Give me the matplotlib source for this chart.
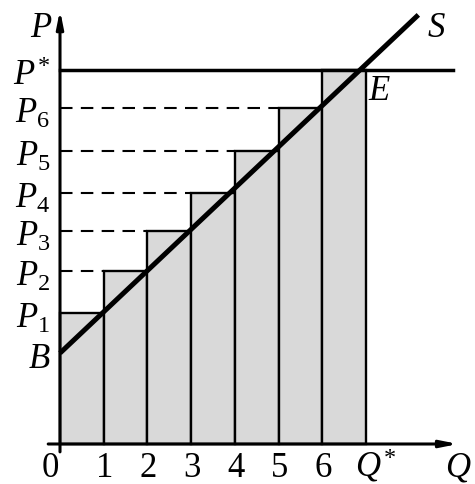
import numpy as np
import matplotlib
matplotlib.use("Agg")
import matplotlib.pyplot as plt

plt.rcParams["font.family"] = "Liberation Serif"
plt.rcParams["mathtext.fontset"] = "custom"
plt.rcParams["mathtext.rm"] = "Liberation Serif"
plt.rcParams["mathtext.it"] = "Liberation Serif:italic"

# data (price levels in the same units as one quantity step)
quantities = [0, 1, 2, 3, 4, 5, 6]
prices = [3.00, 3.96, 4.87, 5.74, 6.70, 7.69, 8.56]   # P1..P6, P*
price_labels = [r"$P_1$", r"$P_2$", r"$P_3$", r"$P_4$", r"$P_5$", r"$P_6$", r"$P^{\!*}$"]
b_level = 2.08
supply_x = [0, 8.2]
supply_y = [2.08, 9.82]
q_star = 7
x_ticklabels = ["0", "1", "2", "3", "4", "5", "6"]

fig = plt.figure(figsize=(4.75, 4.84), dpi=100)
ax = fig.add_axes([0, 0, 1, 1])
ax.set_xlim(-60 / 43.7, 415 / 43.7)
ax.set_ylim(-40 / 43.7, 444 / 43.7)
ax.axis("off")

fs = 25

# bars
ax.bar(quantities, prices, width=1, align="edge", color="#d9d9d9",
       edgecolor="black", linewidth=1.7, zorder=2)

# dashed guides
for i, p in enumerate(prices[:-1]):
    if i > 0:
        ax.plot([0, quantities[i]], [p, p], color="black", lw=1.5,
                dashes=(6, 4), zorder=1)

# P* line
ax.plot([0, 8.99], [prices[-1], prices[-1]], color="black", lw=2.5, zorder=3)

# supply line
ax.plot(supply_x, supply_y, color="black", lw=3.6, zorder=4,
        solid_capstyle="butt")

# axes with arrows
arrow = dict(arrowstyle="-|>,head_length=1.0,head_width=0.2", lw=2.2,
             color="black", shrinkA=0, shrinkB=0)
ax.annotate("", xy=(0, 9.93), xytext=(0, -0.18), arrowprops=arrow, zorder=5)
ax.annotate("", xy=(9.11, 0), xytext=(-0.27, 0), arrowprops=arrow, zorder=5)

# price labels
for lab, p in zip(price_labels, prices):
    ax.annotate(lab, (0, p), xytext=(-7, -10.8), textcoords="offset points",
                ha="right", va="baseline", fontsize=fs)
ax.annotate(r"$B$", (0, b_level), xytext=(-7, -10.8), textcoords="offset points",
            ha="right", va="baseline", fontsize=fs)
ax.text(-7 / 43.7, 9.31, r"$P$", ha="right", va="baseline", fontsize=fs)

# quantity labels
xl = [-0.23] + [q + 0.02 for q in quantities[1:]]
for x, lab in zip(xl, x_ticklabels):
    ax.text(x, -0.755, lab, ha="center", va="baseline", fontsize=fs)
ax.text(q_star - 0.25, -0.755, r"$Q^{\!*}$", ha="left", va="baseline", fontsize=fs)
ax.text(9.12, -0.755, r"$Q$", ha="center", va="baseline", fontsize=fs)

ax.text(8.40, 9.31, r"$S$", ha="left", va="baseline", fontsize=fs)
ax.text(7.05, 7.87, r"$E$", ha="left", va="baseline", fontsize=fs)

fig.savefig("out.png", dpi=100)
